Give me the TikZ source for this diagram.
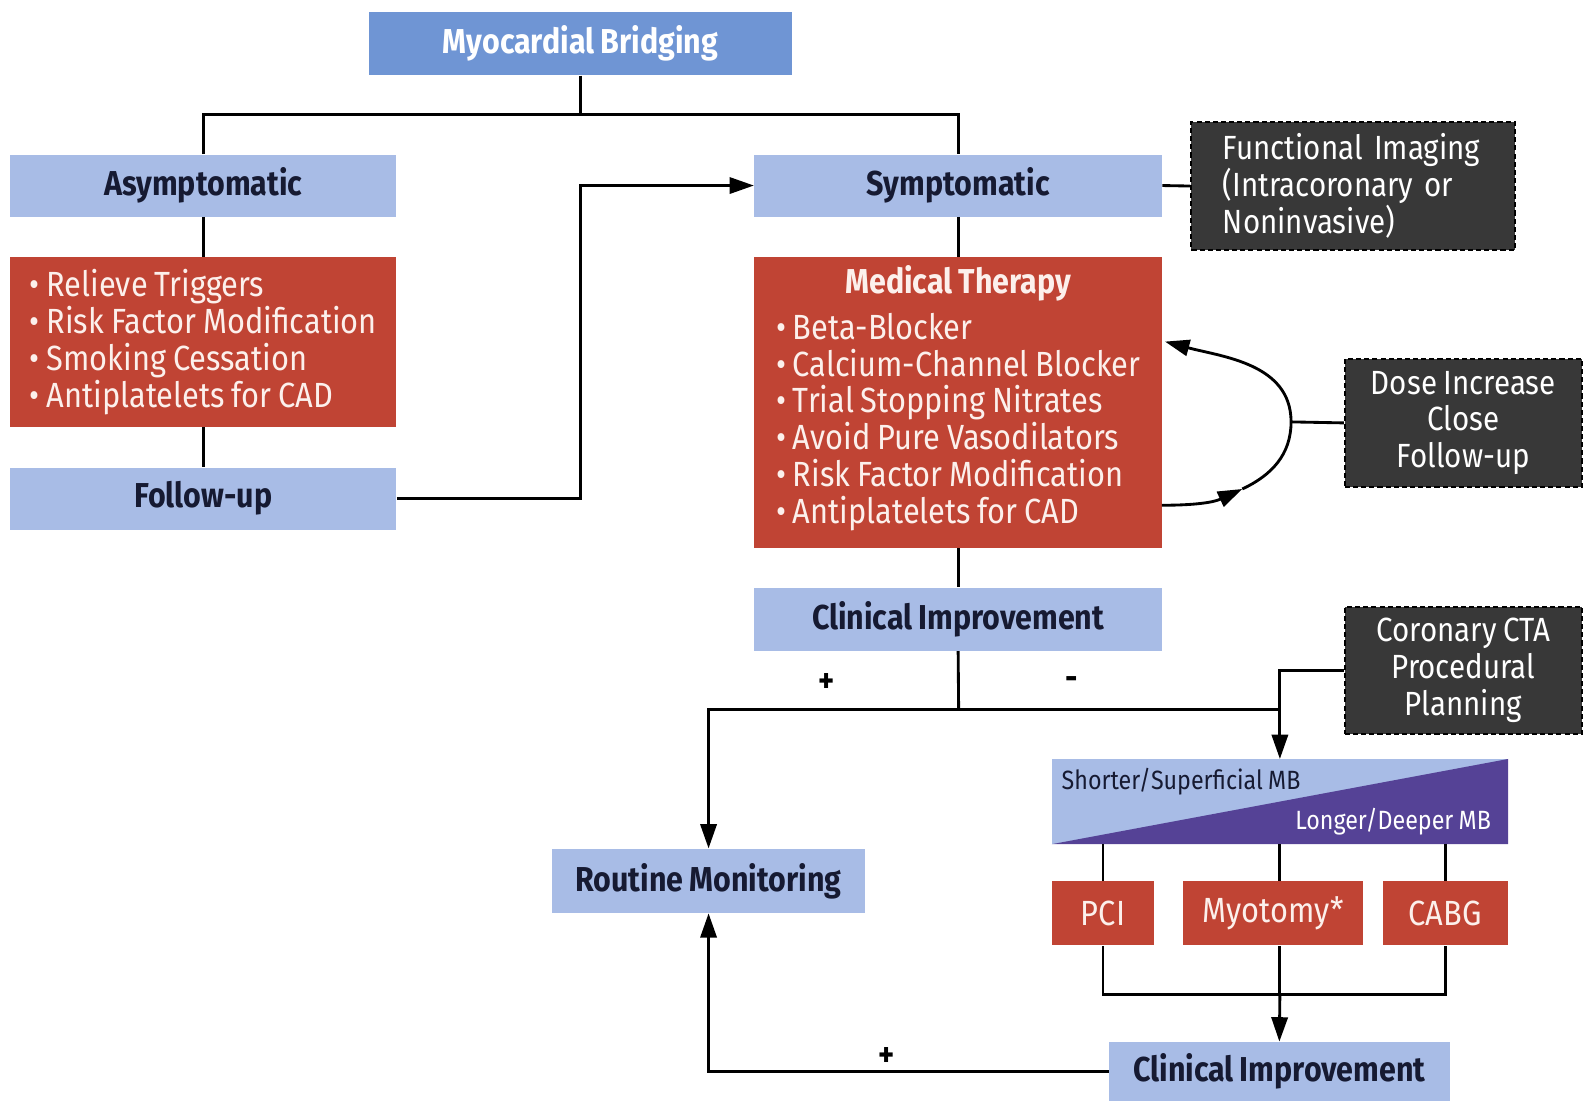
\documentclass[tikz,border=0pt]{standalone}
\usepackage{fontspec}
\setmainfont{Fira Sans}[FakeStretch=0.88, WordSpace=0.85]
\usetikzlibrary{arrows.meta}
\definecolor{mbblue}{RGB}{111,149,212}
\definecolor{lblue}{RGB}{168,188,230}
\definecolor{rred}{RGB}{192,68,52}
\definecolor{dgray}{RGB}{56,56,56}
\definecolor{navy}{RGB}{22,26,50}
\definecolor{purp}{RGB}{85,66,150}
\definecolor{pwhite}{RGB}{252,240,236}
\newcommand\bfA{\fontsize{17}{18.1}\bfseries\selectfont}
\newcommand\rgA{\fontsize{16.5}{18.1}\selectfont}
\newcommand\rgB{\fontsize{17.2}{18.1}\selectfont}
\newcommand\smA{\fontsize{13}{15}\selectfont}
\tikzset{
 lb/.style={rectangle, fill=lblue, inner sep=0pt, font=\bfA, text=navy},
 rb/.style={rectangle, fill=rred, inner sep=0pt, text=pwhite, font=\rgA},
 tx/.style={inner sep=0pt, text=pwhite, font=\rgB, align=left},
 db/.style={rectangle, fill=dgray, draw=black, line width=1pt, dash pattern=on 2.5pt off 1.5pt, text=white, inner sep=0pt, align=center, font=\rgA},
 ln/.style={line width=1.4pt, draw=black},
 arr/.style={ln, -{Triangle[length=12pt,width=8pt]}},
 sgn/.style={font=\bfA, inner sep=0pt, text=black},
}
\begin{document}
\begin{tikzpicture}[x=0.5pt,y=-0.5pt]
\useasboundingbox (0,0) rectangle (1568,1083);
% nodes
\node[lb, fill=mbblue, text=white, minimum width=208.5pt, minimum height=31pt] (MB) at (571,43) {Myocardial Bridging};
\node[lb, minimum width=190pt, minimum height=30.5pt] (asym) at (200,182.5) {Asymptomatic};
\node[rb, font=\rgB, minimum width=190pt, minimum height=83.5pt, align=left] (lred) at (200,336.5)
 {\textbullet{} Relieve Triggers\\\textbullet{} Risk Factor Modification\\\textbullet{} Smoking Cessation\\\textbullet{} Antiplatelets for CAD};
\node[lb, minimum width=190pt, minimum height=30.5pt] (fu) at (200,490.5) {Follow-up};
\node[lb, minimum width=200.5pt, minimum height=30.5pt] (symp) at (942.5,182.5) {Symptomatic};
\node[db, minimum width=159pt, minimum height=63pt, text width=128pt, inner xsep=15.5pt, align=left] (fi) at (1331,183)
 {Functional Imaging\\(Intracoronary or\\Noninvasive)};
\node[rb, minimum width=200.5pt, minimum height=143pt] (med) at (942.5,396) {};
\node[tx, font=\bfA] (medt) at (942.5,279) {Medical Therapy};
\node[tx] (medl) at (942.5,415)
 {\textbullet{} Beta-Blocker\\\textbullet{} Calcium-Channel Blocker\\\textbullet{} Trial Stopping Nitrates\\\textbullet{} Avoid Pure Vasodilators\\\textbullet{} Risk Factor Modification\\\textbullet{} Antiplatelets for CAD};
\node[db, minimum width=116.5pt, minimum height=63pt] (dose) at (1439.5,416) {Dose Increase\\Close\\Follow-up};
\node[lb, minimum width=200.5pt, minimum height=31pt] (ci1) at (942.5,609) {Clinical Improvement};
\node[db, minimum width=116.5pt, minimum height=62.5pt] (cta) at (1439.5,659.5) {Coronary CTA\\Procedural\\Planning};
\node[rectangle, fill=lblue, inner sep=0pt, minimum width=224pt, minimum height=41.5pt] (grad) at (1259,788.5) {};
\fill[purp] (grad.south west) -- (grad.south east) -- (grad.north east) -- cycle;
\node[anchor=west, inner sep=0pt, font=\smA, text=navy] (gtxt1) at (1044,769) {Shorter/Superficial MB};
\node[anchor=east, inner sep=0pt, font=\smA, text=white] (gtxt2) at (1467,808) {Longer/Deeper MB};
\node[lb, minimum width=154pt, minimum height=31.5pt] (rm) at (697,866.5) {Routine Monitoring};
\node[rb, font=\rgB, minimum width=50pt, minimum height=31.5pt] (pci) at (1085,898.5) {PCI};
\node[rb, font=\rgB, minimum width=88.5pt, minimum height=31.5pt] (myo) at (1252.5,898.5) {Myotomy*};
\node[rb, font=\rgB, minimum width=61.5pt, minimum height=31.5pt] (cabg) at (1421.5,898.5) {CABG};
\node[lb, minimum width=167.5pt, minimum height=29pt] (ci2) at (1258.5,1054) {Clinical Improvement};
% coordinates
\coordinate (jtop) at (571,113);
\coordinate (fuj) at (571,490.5);
\coordinate (cj) at (943,698);
\coordinate (cj2) at (1259,698);
\coordinate (bj) at (1259,978);
\coordinate (bs) at (1143,497);
\coordinate (bm) at (1222,481);
\coordinate (rp) at (1270,415);
\coordinate (tt) at (1146,336);
% connectors
\draw[ln] (MB.south) -- (jtop);
\draw[ln] (asym.north) |- (jtop) -| (symp.north);
\draw[ln] (asym.south) -- (lred.north);
\draw[ln] (lred.south) -- (fu.north);
\draw[arr] (fu.east) -- (fuj) |- (symp.west);
\draw[ln] (symp.east) -- (fi.west);
\draw[ln] (symp.south) -- (med.north);
\draw[ln] (med.south) -- (ci1.north);
\draw[ln] (ci1.south) -- (cj);
\draw[arr] (cj) -| (rm.north);
\draw[arr] (cj) -| (grad.north);
\draw[ln] (cta.west) -| (cj2);
\draw[ln] (pci.north) -- (pci.north |- grad.south);
\draw[ln] (cabg.north) -- (cabg.north |- grad.south);
\draw[ln] (grad.south) -- (grad.south |- myo.north);
\draw[ln] (pci.south) |- (bj) -| (cabg.south);
\draw[ln] (grad.south |- myo.south) -- (bj);
\draw[arr] (bj) -- (ci2.north);
\draw[arr] (ci2.west) -| (rm.south);
\draw[arr] (bs) to[out=0, in=205] (bm);
\draw[arr] (bm) to[out=25, in=-90] (rp) to[out=90, in=-15] (tt);
\draw[ln] (rp) -- (dose.west);
% signs
\node[sgn] (p1) at (813,672) {+};
\node[sgn] (m1) at (1054,672) {-};
\node[sgn] (p2) at (872,1040) {+};
\end{tikzpicture}
\end{document}
